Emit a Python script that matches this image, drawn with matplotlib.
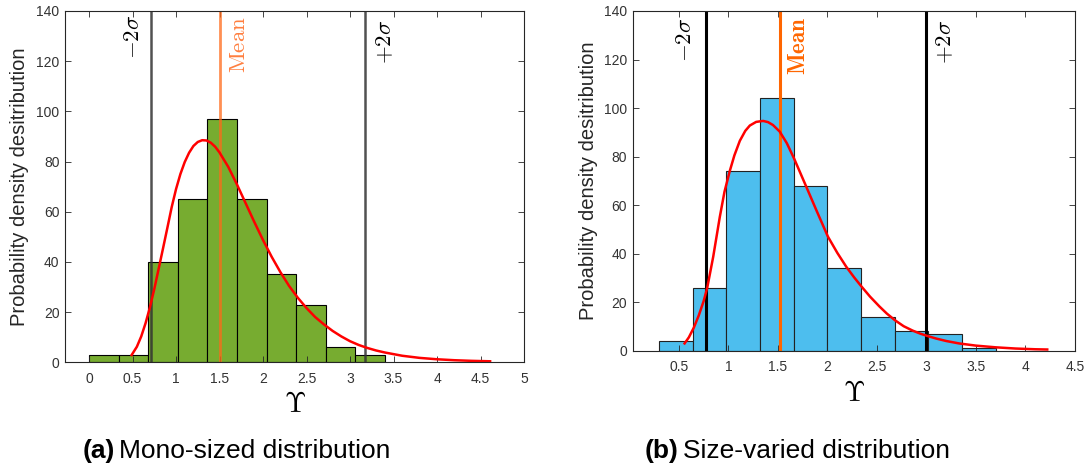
import numpy as np
import matplotlib
matplotlib.use('Agg')
import matplotlib.pyplot as plt

plt.rcParams['font.family'] = ['Liberation Sans', 'DejaVu Sans']
plt.rcParams['mathtext.fontset'] = 'cm'

# (a) mono-sized: histogram bins and counts
mono_edges = [0.0, 0.34, 0.68, 1.02, 1.36, 1.70, 2.04, 2.38, 2.72, 3.06, 3.40]
mono_counts = [3, 3, 40, 65, 97, 65, 35, 23, 6, 3]
mono_fit_x = [0.49, 0.55, 0.6, 0.65, 0.7, 0.75, 0.8, 0.85, 0.9, 0.95, 1.0, 1.05, 1.1, 1.15,
              1.2, 1.25, 1.3, 1.35, 1.4, 1.45, 1.5, 1.6, 1.7, 1.8, 1.9, 2.0, 2.1, 2.2, 2.3,
              2.4, 2.5, 2.6, 2.7, 2.8, 2.9, 3.0, 3.1, 3.2, 3.3, 3.4, 3.6, 3.8, 4.0, 4.2, 4.4, 4.61]
mono_fit_y = [2.9, 6.2, 10.3, 15.6, 21.9, 29.2, 37.2, 45.3, 53.5, 61.8, 69.0, 75.0, 79.8, 83.5,
              86.2, 87.8, 88.5, 88.4, 87.5, 85.9, 83.6, 77.9, 70.9, 63.4, 55.9, 48.7, 42.0, 35.9, 30.4,
              25.7, 21.6, 18.0, 15.1, 12.5, 10.3, 8.4, 6.9, 5.7, 4.7, 3.9, 2.6, 1.75, 1.2, 0.82, 0.57, 0.4]
mono_lo, mono_mean, mono_hi = 0.713, 1.505, 3.172

# (b) size-varied
var_edges = [0.30, 0.64, 0.98, 1.32, 1.66, 2.00, 2.34, 2.68, 3.02, 3.36, 3.70]
var_counts = [4, 26, 74, 104, 68, 34, 14, 8, 7, 1]
var_fit_x = [0.557, 0.6, 0.65, 0.7, 0.75, 0.786, 0.846, 0.913, 0.96, 1.013, 1.06, 1.115, 1.17,
             1.216, 1.28, 1.35, 1.4, 1.45, 1.518, 1.59, 1.662, 1.786, 1.887, 2.005, 2.1, 2.19,
             2.27, 2.345, 2.43, 2.526, 2.6, 2.684, 2.77, 2.86, 2.94, 3.024, 3.1, 3.2, 3.33,
             3.5, 3.7, 3.9, 4.1, 4.22]
var_fit_y = [3.0, 5.5, 9.5, 14.5, 20.5, 26, 38.7, 55.2, 65.5, 74, 80.5, 86.5, 90.6,
             92.8, 94.3, 94.7, 94.2, 93.0, 90.3, 85.5, 79.3, 67.6, 58, 47, 40.3, 34.6,
             30.2, 26.4, 22.3, 18.2, 15.3, 12.5, 10.1, 8.3, 7.0, 5.9, 5.0, 4.0, 3.0,
             2.1, 1.4, 0.9, 0.6, 0.5]
var_lo, var_mean, var_hi = 0.772, 1.518, 3.0

fig = plt.figure(figsize=(10.89, 4.68), dpi=100)
ax1 = fig.add_axes([0.0597, 0.2259, 0.4215, 0.7506])
ax2 = fig.add_axes([0.581, 0.2506, 0.4061, 0.7259])

dark = '#262626'


def style(ax, xlim, xticks):
    ax.set_xlim(*xlim)
    ax.set_ylim(0, 140)
    ax.set_xticks(xticks)
    ax.set_xticklabels([('%g' % t) for t in xticks])
    ax.set_yticks(np.arange(0, 141, 20))
    ax.tick_params(direction='in', top=True, right=True, length=4, width=0.6,
                   colors=dark, labelsize=10, labelcolor='#333333')
    ax.tick_params(axis='x', pad=7)
    ax.tick_params(axis='y', pad=4)
    for s in ax.spines.values():
        s.set_linewidth(0.8)
        s.set_color(dark)
    ax.set_ylabel('Probability density desitribution', fontsize=14.5, color=dark)
    ax.yaxis.set_label_coords(-0.078, 0.5)
    ax.set_xlabel(r'$\Upsilon$', fontsize=20, color='black')


def mark(ax, x, text, color, dx, dy, bold=False):
    ax.annotate(text, xy=(x, 1), xycoords=('data', 'axes fraction'),
                xytext=(dx, dy), textcoords='offset points', rotation=90,
                ha='right' if dx < 0 else 'left', va='top', color=color, fontsize=16.5)


# panel (a)
ax1.bar(mono_edges[:-1], mono_counts, width=np.diff(mono_edges), align='edge',
        color='#77AC30', edgecolor='black', linewidth=0.8)
ax1.axvline(mono_lo, color='#333333', alpha=0.85, lw=1.8)
ax1.axvline(mono_hi, color='#333333', alpha=0.85, lw=1.8)
ax1.axvline(mono_mean, color='#FF6A1A', alpha=0.75, lw=2)
ax1.plot(mono_fit_x, mono_fit_y, color='red', lw=1.8)
mark(ax1, mono_lo, r'$-2\sigma$', 'black', -5, -3)
mark(ax1, mono_mean, r'$\mathrm{Mean}$', '#FF7F3F', 5, -4)
mark(ax1, mono_hi, r'$+2\sigma$', 'black', 6, -6)
style(ax1, (-0.276, 5), np.arange(0, 5.01, 0.5))
ax1.xaxis.set_label_coords(0.5, -0.085)

# panel (b)
ax2.bar(var_edges[:-1], var_counts, width=np.diff(var_edges), align='edge',
        color='#4DBEEE', edgecolor='#222222', linewidth=0.8)
ax2.axvline(var_lo, color='black', lw=2.2)
ax2.axvline(var_hi, color='black', lw=2.2)
ax2.axvline(var_mean, color='#FF6600', lw=2.2)
ax2.plot(var_fit_x, var_fit_y, color='red', lw=1.8)
mark(ax2, var_lo, r'$\mathbf{-2}\sigma$', 'black', -7, -5)
mark(ax2, var_mean, r'$\mathbf{Mean}$', '#FF6600', 5, -4)
mark(ax2, var_hi, r'$\mathbf{+2}\sigma$', 'black', 5, -6)
style(ax2, (0.033, 4.5), np.arange(0.5, 4.51, 0.5))
ax2.xaxis.set_label_coords(0.5, -0.088)

# captions
cy = 1 - 451 / 468
fig.text(115 / 1089, cy, '(a)', ha='right', va='center', fontsize=19, fontweight='bold')
fig.text(119 / 1089, cy, 'Mono-sized distribution', ha='left', va='center', fontsize=19)
fig.text(678 / 1089, cy, '(b)', ha='right', va='center', fontsize=19, fontweight='bold')
fig.text(683 / 1089, cy, 'Size-varied distribution', ha='left', va='center', fontsize=19)

fig.savefig('out.png', dpi=100)
